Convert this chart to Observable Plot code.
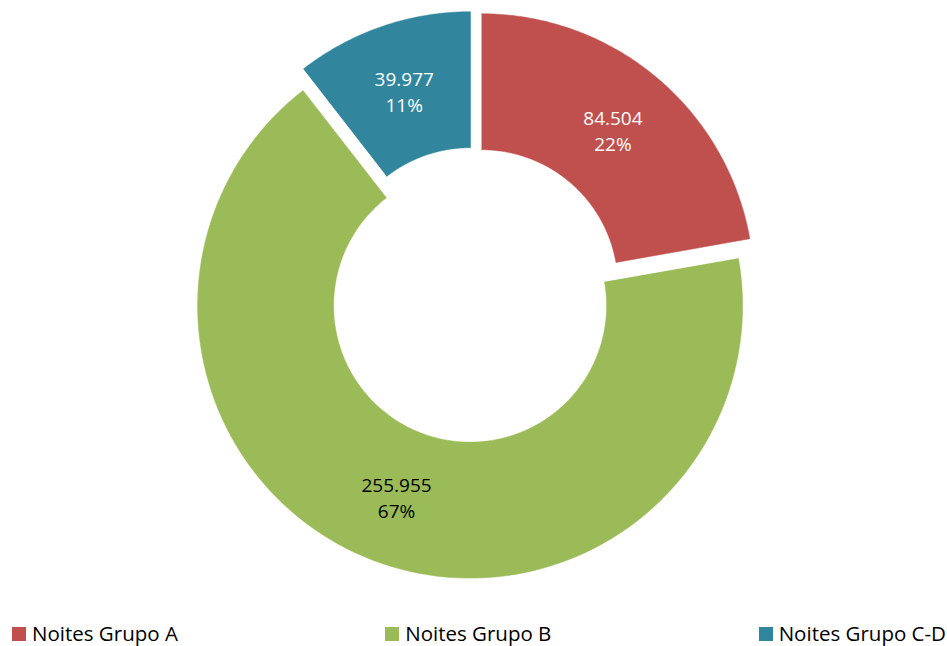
<!DOCTYPE html>
<html>
<head>
<meta charset="utf-8">
<script src="https://cdn.jsdelivr.net/npm/d3@7"></script>
<script src="https://cdn.jsdelivr.net/npm/@observablehq/plot@0.6"></script>
<style>
  html, body { margin: 0; padding: 0; background: #fff; }
  #wrap { width: 947px; }
  #legend { display: flex; justify-content: space-between; height: 34px; padding: 7px 1px 0 12px; box-sizing: border-box;
            font-family: "Open Sans", sans-serif; font-size: 20.5px; line-height: 24px; color: #000; align-items: center; }
  .item { display: flex; align-items: center; white-space: nowrap; }
  .sw { width: 14px; height: 14px; margin-right: 6px; margin-top: 3px; }
</style>
</head>
<body>
<div id="wrap">
  <div id="chart"></div>
  <div id="legend"></div>
</div>
<script>
const categories = ["Noites Grupo A", "Noites Grupo B", "Noites Grupo C-D"];
const values = [84504, 255955, 39977];

const colors = ["#C0504D", "#9BBB59", "#31859C"];
const labelColors = ["#ffffff", "#000000", "#ffffff"];

const W = 947, H = 612;
const cx = 473.7, cy = 294.5;
const R = 272.5, r = 136.5, explode = 11.4;

const fmt = d3.formatLocale({decimal: ",", thousands: ".", grouping: [3], currency: ["R$", ""]}).format(",d");
const total = d3.sum(values);
const pie = d3.pie().sort(null).value(d => d.value);
const arcs = pie(categories.map((c, i) => ({key: c, value: values[i], i})));

const shapes = arcs.map(a => {
  const mid = (a.startAngle + a.endAngle) / 2;
  const ox = explode * Math.sin(mid), oy = explode * Math.cos(mid);
  const n = 120, pts = [];
  for (let k = 0; k <= n; k++) {
    const t = a.startAngle + (a.endAngle - a.startAngle) * k / n;
    pts.push({x: ox + R * Math.sin(t), y: oy + R * Math.cos(t)});
  }
  for (let k = n; k >= 0; k--) {
    const t = a.startAngle + (a.endAngle - a.startAngle) * k / n;
    pts.push({x: ox + r * Math.sin(t), y: oy + r * Math.cos(t)});
  }
  const rm = (R + r) / 2;
  return {
    i: a.data.i, pts,
    label: {x: ox + rm * Math.sin(mid), y: oy + rm * Math.cos(mid),
            text: fmt(a.data.value) + "\n" + Math.round(a.data.value / total * 100) + "%",
            color: labelColors[a.data.i]}
  };
});

const chart = Plot.plot({
  width: W, height: H, margin: 0,
  style: {fontFamily: "'Open Sans', sans-serif", background: "#fff"},
  x: {domain: [-cx, W - cx], axis: null},
  y: {domain: [-(H - cy), cy], axis: null},
  marks: [
    ...shapes.map(s => Plot.line(s.pts, {x: "x", y: "y", fill: colors[s.i], stroke: colors[s.i], strokeWidth: 0.5})),
    Plot.text(shapes.map(s => s.label), {x: "x", y: "y", text: "text", fill: "color", fontSize: 19, lineHeight: 1.37})
  ]
});
document.getElementById("chart").append(chart);

const legend = document.getElementById("legend");
categories.forEach((c, i) => {
  const it = document.createElement("div");
  it.className = "item";
  const sw = document.createElement("span");
  sw.className = "sw";
  sw.style.background = colors[i];
  const tx = document.createElement("span");
  tx.textContent = c;
  it.append(sw, tx);
  legend.append(it);
});
</script>
</body>
</html>
